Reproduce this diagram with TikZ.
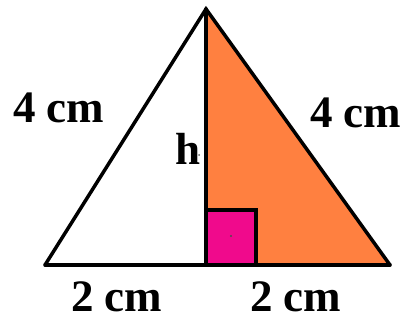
\documentclass[tikz,border=0pt]{standalone}
\usepackage{fontspec}
\setmainfont{Liberation Serif}
\definecolor{orangefill}{RGB}{255,128,64}
\definecolor{pinkfill}{RGB}{240,10,140}
\begin{document}
\begin{tikzpicture}[x=1pt,y=-1pt,
  edge/.style={line width=3.5pt,line cap=round,line join=miter},
  lbl/.style={font=\fontsize{45}{50}\selectfont\bfseries,inner sep=0pt,text depth=0pt,anchor=base west}]
\useasboundingbox (0,0) rectangle (404,320);
\coordinate (A) at (206,9);
\coordinate (B) at (45,265);
\coordinate (C) at (390,265);
\coordinate (H) at (206,265);
\coordinate (S1) at (206,210);
\coordinate (S2) at (256,210);
\coordinate (S3) at (256,265);
\fill[orangefill] (A) -- (H) -- (C) -- cycle;
\fill[pinkfill] (H) rectangle (S2);
\draw[edge] (S1) -- (S2) -- (S3);
\draw[edge] (A) -- (H);
\draw[edge] (B) -- (A) -- (C);
\draw[edge] (B) -- (C);
\fill[black!70] (231,236) circle (1.2);
\fill[black!60] (199,155) circle (1);
\node[lbl] (l1) at (13,123) {4 cm};
\node[lbl] (l2) at (310,128) {4 cm};
\node[lbl] (l3) at (71,311) {2 cm};
\node[lbl] (l4) at (250,311) {2 cm};
\node[lbl] (lh) at (175,165) {h};
\end{tikzpicture}
\end{document}
